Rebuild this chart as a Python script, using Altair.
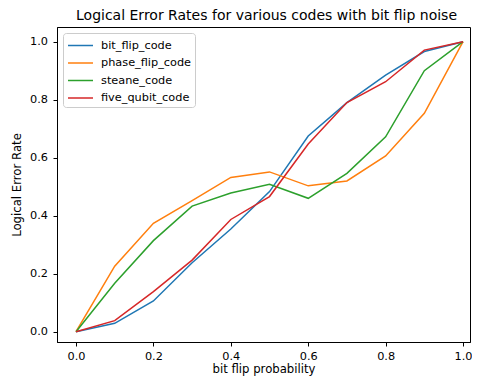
import altair as alt
import pandas as pd

p = [0.0, 0.1, 0.2, 0.3, 0.4, 0.5, 0.6, 0.7, 0.8, 0.9, 1.0]
bit_flip_code = [0.0, 0.029, 0.106, 0.238, 0.354, 0.483, 0.675, 0.79, 0.885, 0.966, 1.0]
phase_flip_code = [0.0, 0.226, 0.374, 0.452, 0.532, 0.551, 0.503, 0.52, 0.606, 0.753, 1.0]
steane_code = [0.0, 0.167, 0.314, 0.433, 0.478, 0.508, 0.46, 0.546, 0.672, 0.9, 1.0]
five_qubit_code = [0.0, 0.038, 0.138, 0.247, 0.387, 0.466, 0.647, 0.79, 0.862, 0.971, 1.0]

codes = ["bit_flip_code", "phase_flip_code", "steane_code", "five_qubit_code"]
colors = ["#1f77b4", "#ff7f0e", "#2ca02c", "#d62728"]
series = [bit_flip_code, phase_flip_code, steane_code, five_qubit_code]

rows = []
for i, (name, vals) in enumerate(zip(codes, series)):
    for x, y in zip(p, vals):
        rows.append({"p": x, "rate": y, "code": name, "k": i})
df = pd.DataFrame(rows)

FONT = "DejaVu Sans"

chart = alt.Chart(df).mark_line(strokeWidth=1.5, clip=True).encode(
    x=alt.X("p:Q",
            scale=alt.Scale(domain=[-0.0491, 1.018], nice=False, zero=False),
            axis=alt.Axis(values=[0, 0.2, 0.4, 0.6, 0.8, 1.0], format=".1f",
                          title="bit flip probability", grid=False,
                          labelPadding=4, titlePadding=2)),
    y=alt.Y("rate:Q",
            scale=alt.Scale(domain=[-0.0355, 1.0507], nice=False, zero=False),
            axis=alt.Axis(values=[0, 0.2, 0.4, 0.6, 0.8, 1.0], format=".1f",
                          title="Logical Error Rate", grid=False,
                          labelPadding=5.5, titlePadding=7.5)),
    color=alt.Color("code:N", sort=codes,
                    scale=alt.Scale(domain=codes, range=colors),
                    legend=alt.Legend(title=None, orient="top-left", offset=6,
                                      symbolType="M-1.47,0L1.47,0",
                                      symbolSize=289,
                                      symbolStrokeWidth=1.5,
                                      symbolOffset=5,
                                      labelFontSize=11.3, labelFont=FONT,
                                      labelColor="black", labelOffset=11,
                                      rowPadding=2.5, padding=3,
                                      strokeColor="#cccccc", fillColor="white",
                                      cornerRadius=3)),
    order=alt.Order("k:Q"),
).properties(
    width=413, height=315,
    title=alt.Title("Logical Error Rates for various codes with bit flip noise",
                    font=FONT, fontSize=14, fontWeight="normal", color="black",
                    offset=4.5, dx=3),
    autosize=alt.AutoSizeParams(type="none"),
    padding={"left": 49, "top": 19, "right": 2, "bottom": 35},
).configure_view(
    stroke="black", strokeWidth=1
).configure_axis(
    domainColor="black", tickColor="black", tickSize=4,
    labelFont=FONT, labelFontSize=11.3, labelColor="black",
    titleFont=FONT, titleFontSize=11.7, titleFontWeight="normal", titleColor="black",
)

chart.save("out.html", embed_options={"renderer": "svg", "actions": False})
